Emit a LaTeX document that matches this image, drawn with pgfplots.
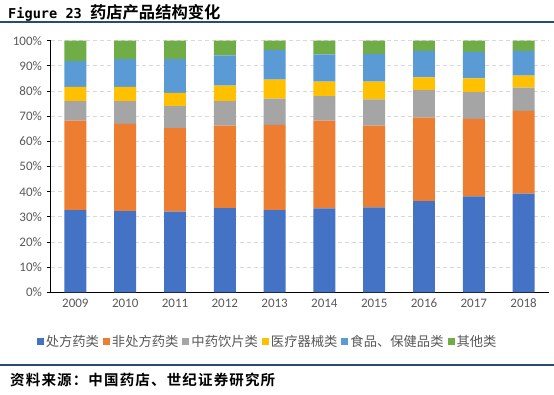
\documentclass[border=0pt]{standalone}
\usepackage{pgfplots}
\pgfplotsset{compat=1.18}
\usepackage{pgfplotstable}
\usepackage{fontspec}
\setmainfont{Carlito}
\newfontfamily\cjk{Noto Sans CJK SC}
\newfontfamily\cjkb{Noto Sans CJK SC Bold}
\newfontfamily\cjksp{Noto Sans CJK SC Bold}[LetterSpace=8]
\newfontfamily\titlemono{DejaVu Sans Mono Bold}
\definecolor{cA}{HTML}{4472C4}
\definecolor{cB}{HTML}{ED7D31}
\definecolor{cC}{HTML}{A5A5A5}
\definecolor{cD}{HTML}{FFC000}
\definecolor{cE}{HTML}{5B9BD5}
\definecolor{cF}{HTML}{70AD47}
\definecolor{txt}{HTML}{595959}
\definecolor{rule}{HTML}{2B4A6F}
\pgfplotstableread{
x a b c d e f
0 32.7 35.5 7.8 5.6 10.3 8.1
1 32.3 34.6 9.1 5.6 11.1 7.3
2 32.1 33.2 8.7 5.3 13.4 7.3
3 33.5 32.7 9.8 6.1 12.1 5.8
4 32.7 33.8 10.5 7.5 11.9 3.6
5 33.4 34.8 9.8 5.7 10.9 5.4
6 33.8 32.4 10.5 7.0 11.1 5.2
7 36.2 33.2 11.0 5.0 10.6 4.0
8 38.1 30.8 10.7 5.4 10.6 4.4
9 39.2 32.9 9.2 4.8 9.9 4.0
}\datatable
\begin{document}
\begin{tikzpicture}
\useasboundingbox (0,0) rectangle (554pt,394pt);
\node[anchor=west, inner sep=0pt] at (8pt,381pt) {\titlemono\fontsize{13.6}{16}\selectfont Figure 23 \cjkb\fontsize{16.3}{17}\selectfont 药店产品结构变化};
\draw[rule, line width=1.8pt] (0pt,372pt) -- (554pt,372pt);
\draw[rule, line width=1.5pt] (0pt,29pt) -- (554pt,29pt);
\node[anchor=west, inner sep=0pt] at (10pt,14pt) {\cjksp\fontsize{14.5}{16}\selectfont 资料来源：中国药店、世纪证券研究所};
\begin{axis}[
  at={(50.5pt,101.7pt)}, anchor=south west,
  scale only axis, width=498pt, height=251.6pt,
  ybar stacked, bar width=0.44,
  xmin=-0.5, xmax=9.5, ymin=0, ymax=100,
  xtick={0,...,9},
  xticklabels={2009,2010,2011,2012,2013,2014,2015,2016,2017,2018},
  minor xtick={-0.5,0.5,...,9.5},
  ytick={0,10,...,100},
  yticklabel={\pgfmathprintnumber{\tick}\%},
  /pgf/number format/assume math mode=true,
  axis x line*=bottom, axis y line*=left,
  axis line style={black, line width=0.9pt},
  x axis line style={-}, y axis line style={-},
  xtick style={draw=none},
  minor x tick style={black, line width=0.9pt},
  minor tick length=5pt,
  xtick align=inside,
  ytick style={black, line width=0.9pt},
  major tick length=4pt,
  ytick align=outside,
  ymajorgrids,
  grid style={color=black!15, dash pattern=on 4pt off 3pt, line width=0.8pt},
  tick label style={font=\fontsize{13}{14}\selectfont, text=txt},
  xticklabel style={yshift=-3pt},
  yticklabel style={xshift=-1pt},
  legend columns=6,
  legend style={draw=none, at={(0.436,-0.197)}, anchor=center,
     font=\cjk\fontsize{13.3}{15}\selectfont, text=txt,
     /tikz/every even column/.append style={column sep=2pt},
     /tikz/every odd column/.append style={column sep=0pt},
     inner sep=0pt},
  legend image code/.code={\fill[#1] (0pt,-3.3pt) rectangle (7pt,3.4pt);},
]
\addplot[fill=cA, draw=none] table[x=x,y=a] {\datatable};
\addplot[fill=cB, draw=none] table[x=x,y=b] {\datatable};
\addplot[fill=cC, draw=none] table[x=x,y=c] {\datatable};
\addplot[fill=cD, draw=none] table[x=x,y=d] {\datatable};
\addplot[fill=cE, draw=none] table[x=x,y=e] {\datatable};
\addplot[fill=cF, draw=none] table[x=x,y=f] {\datatable};
\legend{处方药类\hspace{8pt},非处方药类\hspace{8pt},中药饮片类\hspace{8pt},医疗器械类\hspace{8pt},食品、保健品类\hspace{8pt},其他类}
\end{axis}
\end{tikzpicture}
\end{document}
